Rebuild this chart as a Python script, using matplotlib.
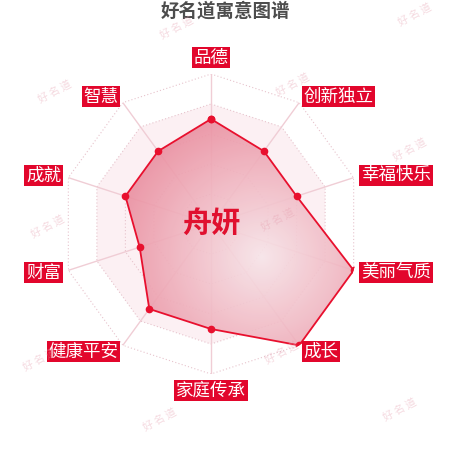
import numpy as np
import matplotlib
matplotlib.use('Agg')
import matplotlib.pyplot as plt

plt.rcParams['font.family'] = ['Noto Sans CJK SC', 'DejaVu Sans']

# data
title = '好名道寓意图谱'
name = '舟妍'
indicators = ['品德', '创新独立', '幸福快乐', '美丽气质', '成长',
              '家庭传承', '健康平安', '财富', '成就', '智慧']
scores = [70, 60, 60, 100, 100, 70, 70, 50, 60, 60]
max_score = 100
levels = [20, 40, 60, 80, 100]

W = H = 450
cx, cy, R = 211, 224, 150   # chart centre / radius in px

fig = plt.figure(figsize=(W / 100, H / 100), dpi=100)
ax = fig.add_axes([(cx - R) / W, 1 - (cy + R) / H, 2 * R / W, 2 * R / H],
                  projection='polar')
ax.set_theta_offset(np.pi / 2)
ax.set_theta_direction(-1)

n = len(indicators)
angles = np.linspace(0, 2 * np.pi, n, endpoint=False)
ac = np.append(angles, angles[0])
sc = np.append(scores, scores[0])

# split area + grid
ax.fill(ac, [levels[-2]] * (n + 1), color='#fcf0f3', lw=0, zorder=1)
for lv in levels:
    ax.plot(ac, [lv] * (n + 1), ls=(0, (1, 2)), color='#e7c3cc', lw=0.8, zorder=1.5)
for a in angles:
    ax.plot([a, a], [0, max_score], color='#f0cdd5', lw=1.0, zorder=1.5)

# data area with radial gradient
poly = ax.fill(ac, sc, facecolor='none', edgecolor='none', zorder=2)[0]
yy, xx = np.mgrid[0:1:300j, 0:1:300j]
gx, gy = 0.67, 0.39
d = np.clip(np.hypot(xx - gx, yy - gy) / 0.5, 0, 1)
light = np.array([247, 229, 233]) / 255
dark = np.array([234, 142, 159]) / 255
img = np.zeros((300, 300, 4))
img[..., :3] = light + (dark - light) * d[..., None]
img[..., 3] = 0.9
im = ax.imshow(img, extent=[0, 1, 0, 1], origin='lower', transform=ax.transAxes,
               interpolation='bilinear', zorder=2)
im.set_clip_path(poly)

ax.plot(ac, sc, color='#e8102e', lw=1.3, marker='o', ms=4.5, zorder=4)

ax.set_xlim(0, 2 * np.pi)
ax.set_ylim(0, max_score)
ax.grid(False)
ax.set_xticks([])
ax.set_yticks([])
ax.spines['polar'].set_visible(False)
ax.patch.set_alpha(0)

# indicator labels
for a, lab in zip(angles, indicators):
    s, c = np.sin(a), np.cos(a)
    ha = 'center' if abs(s) < 0.01 else ('left' if s > 0 else 'right')
    va = 'bottom' if c > 0.99 else ('top' if c < -0.99 else 'center')
    ax.text(a, max_score * 1.05, lab, ha=ha, va=va, fontsize=12.6, color='white',
            bbox=dict(boxstyle='square,pad=0.1', fc='#e2062c', ec='none'), zorder=5)

ax.text(0.5, 0.505, name, transform=ax.transAxes, ha='center', va='center',
        fontsize=21, fontweight='bold', color='#e0102f', zorder=6)

fig.text(0.5, 1 - 11 / H, title, ha='center', va='center', fontsize=13.3,
         fontweight='bold', color='#4d4d4d')

# watermarks
for x, y in [(177, 28), (415, 15), (55, 92), (293, 85), (48, 227), (410, 150),
             (278, 220), (282, 353), (40, 360), (160, 420), (400, 410)]:
    fig.text(x / W, 1 - y / H, '好 名 道', rotation=28, ha='center', va='center',
             fontsize=7.5, color='#e6a0b0', alpha=0.4, zorder=5)

fig.savefig('out.png', dpi=100)
